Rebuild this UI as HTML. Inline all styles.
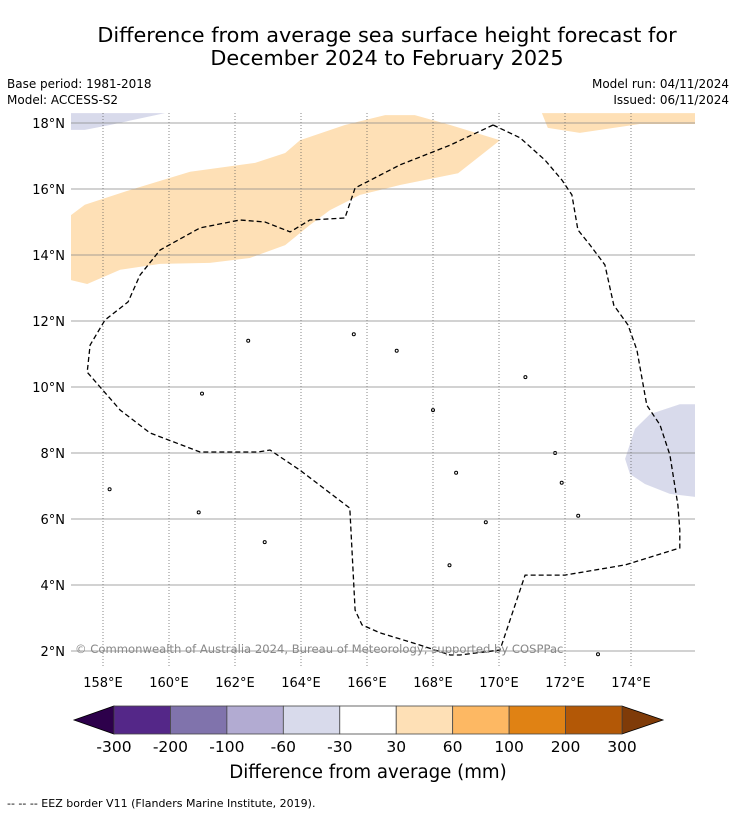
<!DOCTYPE html>
<html><head><meta charset="utf-8"><style>
body{margin:0;background:#fff;width:736px;height:816px;overflow:hidden;font-family:"Liberation Sans","DejaVu Sans",sans-serif}
svg{display:block}
</style></head><body>
<svg id="chart" width="736" height="816" viewBox="0 0 736 816" xmlns="http://www.w3.org/2000/svg">
<text x="387" y="42" font-size="20.8" text-anchor="middle" font-family="DejaVu Sans, sans-serif">Difference from average sea surface height forecast for</text>
<text x="387" y="65" font-size="20.8" text-anchor="middle" font-family="DejaVu Sans, sans-serif">December 2024 to February 2025</text>
<text x="7" y="88" font-size="12" font-family="DejaVu Sans, sans-serif">Base period: 1981-2018</text>
<text x="7" y="104" font-size="12" font-family="DejaVu Sans, sans-serif">Model: ACCESS-S2</text>
<text x="729" y="88" font-size="12" text-anchor="end" font-family="DejaVu Sans, sans-serif">Model run: 04/11/2024</text>
<text x="729" y="104" font-size="12" text-anchor="end" font-family="DejaVu Sans, sans-serif">Issued: 06/11/2024</text>
<defs><clipPath id="mapclip"><rect x="71" y="113" width="624" height="554"/></clipPath></defs>
<g id="map" clip-path="url(#mapclip)"></g>
<g id="grid"></g>
<g id="eez" clip-path="url(#mapclip)"></g>
<text x="75" y="653" font-size="11.6" fill="#888" font-family="DejaVu Sans, sans-serif">© Commonwealth of Australia 2024, Bureau of Meteorology; supported by COSPPac</text>
<g id="axes"></g>
<g id="cbar"></g>
<text x="368" y="778" font-size="18.2" text-anchor="middle" font-family="DejaVu Sans, sans-serif">Difference from average (mm)</text>
<text x="7" y="807" font-size="11" font-family="DejaVu Sans, sans-serif">--  --  -- EEZ border V11 (Flanders Marine Institute, 2019).</text>
</svg>
<script>
const lonTicks=[158,160,162,164,166,168,170,172,174];
const latTicks=[2,4,6,8,10,12,14,16,18];
const cbarBounds=[-300,-200,-100,-60,-30,30,60,100,200,300];
const cbarColors=["#542788","#8073ac","#b2abd2","#d8daeb","#ffffff","#fee0b6","#fdb863","#e08214","#b35806"];
const cbarUnder="#2d004b", cbarOver="#7f3b08";
const eezLon=[169.82,170.64,171.39,171.91,172.21,172.39,172.76,173.21,173.48,173.91,174.18,174.48,174.88,175.18,175.42,175.48,175.48,173.82,172.0,170.79,170.03,168.82,168.52,167.61,166.39,165.85,165.64,165.48,163.97,163.06,162.7,160.94,159.42,158.52,157.52,157.61,158.06,158.76,159.12,159.73,160.94,162.15,162.91,163.67,164.27,165.33,165.64,167.0,168.52,169.82];
const eezLat=[17.94,17.55,16.88,16.27,15.82,14.76,14.3,13.7,12.48,11.88,11.12,9.45,8.85,7.94,6.42,5.67,5.12,4.61,4.3,4.3,2.03,1.88,1.88,2.18,2.55,2.79,3.24,6.33,7.48,8.09,8.03,8.03,8.61,9.3,10.45,11.27,12.03,12.58,13.39,14.15,14.82,15.06,15.0,14.7,15.06,15.12,16.03,16.73,17.33,17.94];
const orangeLon=[157.03,157.45,158.82,160.64,162.61,163.52,163.97,165.33,166.55,167.45,168.52,170.03,168.76,167.0,165.79,164.88,164.27,163.52,162.45,161.24,159.73,158.52,157.52,157.03];
const orangeLat=[15.21,15.52,15.97,16.52,16.79,17.09,17.48,17.94,18.24,18.24,17.94,17.48,16.48,16.12,15.82,15.36,14.91,14.3,13.91,13.76,13.73,13.55,13.12,13.24];
const orange2Lon=[171.3,171.48,172.45,174.27,175.94,175.94];
const orange2Lat=[18.3,17.85,17.7,17.97,17.97,18.3];
const purpleTLLon=[157.03,159.88,158.21,157.45,157.03];
const purpleTLLat=[18.3,18.3,17.94,17.79,17.79];
const purpleRLon=[175.94,175.48,174.58,174.12,173.82,173.97,174.42,175.18,175.94];
const purpleRLat=[9.48,9.48,9.18,8.73,7.82,7.36,7.06,6.76,6.67];
const islandLon=[158.2,162.4,165.6,171.9,168.7,172.4,169.6,173.0,168.5,162.9,160.9,161.0,166.9,168.0,170.8,171.7];
const islandLat=[6.9,11.4,11.6,7.1,7.4,6.1,5.9,1.9,4.6,5.3,6.2,9.8,11.1,9.3,10.3,8.0];

const NS="http://www.w3.org/2000/svg";
const X=lon=>103+(lon-158)*33;
const Y=lat=>123+(18-lat)*33;
function mk(tag,attrs,parent){const e=document.createElementNS(NS,tag);for(const k in attrs)e.setAttribute(k,attrs[k]);parent.appendChild(e);return e;}
function pts(lons,lats){return lons.map((l,i)=>X(l).toFixed(1)+","+Y(lats[i]).toFixed(1)).join(" ");}
const map=document.getElementById('map');
let p;
p=mk('polygon',{points:pts(orangeLon,orangeLat),fill:"#fee0b6"},map);


p=mk('polygon',{points:pts(orange2Lon,orange2Lat),fill:"#fee0b6"},map);


p=mk('polygon',{points:pts(purpleTLLon,purpleTLLat),fill:"#d8daeb"},map);


p=mk('polygon',{points:pts(purpleRLon,purpleRLat),fill:"#d8daeb"},map);


islandLon.forEach((l,i)=>{const c=mk('circle',{cx:X(l),cy:Y(islandLat[i]),r:1.5,fill:"none",stroke:"#000","stroke-width":1},map);

});
const grid=document.getElementById('grid');
lonTicks.forEach(l=>{const g=mk('line',{x1:X(l),x2:X(l),y1:113,y2:667,stroke:"#555","stroke-width":0.7,"stroke-dasharray":"1,2"},grid);

});
latTicks.forEach(l=>{const g=mk('line',{x1:71,x2:695,y1:Y(l),y2:Y(l),stroke:"#888","stroke-width":0.7},grid);

});
p=mk('polyline',{points:pts(eezLon,eezLat),fill:"none",stroke:"#000","stroke-width":1.3,"stroke-dasharray":"5,3"},document.getElementById('eez'));


const axes=document.getElementById('axes');
lonTicks.forEach(l=>{const t=mk('text',{x:X(l),y:687,"font-size":13,"text-anchor":"middle","font-family":"DejaVu Sans, sans-serif"},axes);t.textContent=l+"°E";

});
latTicks.forEach(l=>{const t=mk('text',{x:65,y:Y(l)+5,"font-size":13,"text-anchor":"end","font-family":"DejaVu Sans, sans-serif"},axes);t.textContent=l+"°N";

});
const cb=document.getElementById('cbar');
const bx0=114,bx1=622,by0=706,by1=734,n=cbarColors.length,bw=(bx1-bx0)/n;
p=mk('polygon',{points:`${bx0},${by0} ${bx0},${by1} 74,${(by0+by1)/2}`,fill:cbarUnder,stroke:"#000","stroke-width":0.8},cb);


p=mk('polygon',{points:`${bx1},${by0} ${bx1},${by1} 663,${(by0+by1)/2}`,fill:cbarOver,stroke:"#000","stroke-width":0.8},cb);


cbarColors.forEach((c,i)=>{const r=mk('rect',{x:bx0+i*bw,y:by0,width:bw,height:by1-by0,fill:c,stroke:"#444","stroke-width":0.8},cb);

});
cbarBounds.forEach((v,i)=>{const t=mk('text',{x:bx0+i*bw,y:752,"font-size":15.5,"text-anchor":"middle","font-family":"DejaVu Sans, sans-serif"},cb);t.textContent=v;

});
</script>
</body></html>
